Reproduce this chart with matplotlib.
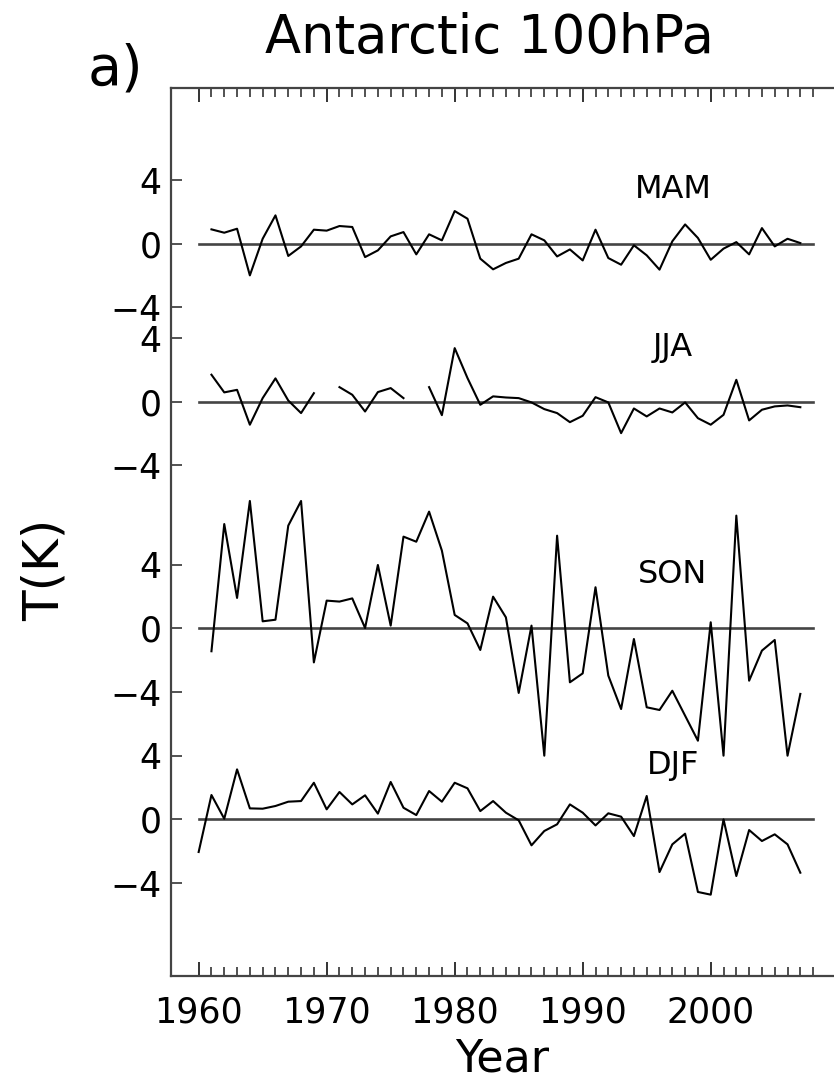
import numpy as np
import matplotlib
matplotlib.use("Agg")
import matplotlib.pyplot as plt
from matplotlib.ticker import FixedLocator

# seasonal temperature anomalies (K), Antarctic 100 hPa
years = list(range(1961, 2008))
djf_years = list(range(1960, 2008))

mam = [0.90, 0.69, 0.94, -1.99, 0.31, 1.78, -0.77, -0.17, 0.88, 0.82,
       1.11, 1.05, -0.84, -0.42, 0.46, 0.73, -0.67, 0.59, 0.21, 2.05,
       1.57, -0.94, -1.61, -1.21, -0.94, 0.59, 0.21, -0.80, -0.36, -1.05,
       0.88, -0.90, -1.32, -0.10, -0.73, -1.63, 0.15, 1.21, 0.36, -1.01,
       -0.31, 0.10, -0.67, 0.98, -0.17, 0.31, 0.04]

jja = [1.70, 0.59, 0.75, -1.44, 0.23, 1.47, 0.08, -0.71, 0.54, np.nan,
       0.92, 0.44, -0.61, 0.61, 0.86, 0.23, np.nan, 0.92, -0.84, 3.37,
       1.49, -0.19, 0.34, 0.27, 0.23, -0.04, -0.46, -0.71, -1.28, -0.88,
       0.29, -0.04, -1.97, -0.42, -0.92, -0.42, -0.67, -0.04, -1.03, -1.44,
       -0.82, 1.38, -1.17, -0.50, -0.29, -0.23, -0.34]

son = [-1.44, 6.55, 1.91, 8.0, 0.44, 0.54, 6.45, 8.0, -2.14, 1.74,
       1.68, 1.88, 0.02, 3.98, 0.17, 5.76, 5.44, 7.33, 4.88, 0.84,
       0.31, -1.36, 1.99, 0.69, -4.06, 0.17, -8.0, 5.82, -3.39, -2.83,
       2.58, -2.97, -5.07, -0.67, -4.96, -5.13, -3.92, -5.49, -7.06, 0.38,
       -8.0, 7.08, -3.29, -1.40, -0.73, -8.0, -4.12]

djf = [-2.05, 1.53, 0.04, 3.14, 0.69, 0.67, 0.84, 1.11, 1.15, 2.30,
       0.63, 1.72, 0.94, 1.51, 0.36, 2.35, 0.73, 0.27, 1.78, 1.11,
       2.30, 1.95, 0.52, 1.15, 0.42, -0.06, -1.63, -0.73, -0.31, 0.94,
       0.42, -0.38, 0.38, 0.17, -1.05, 1.47, -3.31, -1.57, -0.90, -4.56,
       -4.73, 0.00, -3.56, -0.67, -1.36, -0.94, -1.57, -3.35]

seasons = ["MAM", "JJA", "SON", "DJF"]
offsets = [36.16, 26.23, 12.0, 0.0]

series = [(years, mam), (years, jja), (years, son), (djf_years, djf)]

x0, x1 = 1957.84, 2009.63

fig = plt.figure(figsize=(8.34, 10.85), dpi=100)
ax = fig.add_axes([171 / 834, 109.3 / 1085, 663 / 834, 887.7 / 1085])

for name, off, (yrs, vals) in zip(seasons, offsets, series):
    # zero line of each season, 1960-2008
    ax.axhline(off, xmin=(1960 - x0) / (x1 - x0), xmax=(2008 - x0) / (x1 - x0),
               color="#444444", lw=1.9, zorder=1)
    ax.plot(yrs, np.array(vals) + off, color="black", lw=1.5, zorder=2)
    ax.text(1997.05, off + 3.4, name, ha="center", va="center",
            fontsize=23, fontweight="medium")

ax.set_xlim(x0, x1)
ax.set_ylim(-9.82, 45.94)

ax.xaxis.set_major_locator(FixedLocator([1960, 1970, 1980, 1990, 2000]))
ax.xaxis.set_minor_locator(FixedLocator(list(range(1960, 2009))))
ax.tick_params(axis="x", which="major", direction="in", length=10, width=1.4,
               top=True, bottom=True, labelsize=25, pad=14, color="#333333")
ax.tick_params(axis="x", which="minor", direction="in", length=6.5, width=1.2,
               top=True, bottom=True, color="#333333")

yt = []
yl = []
for off in offsets:
    yt += [off - 4, off, off + 4]
    yl += ["\u22124", "0", "4"]
ax.set_yticks(yt)
ax.set_yticklabels(yl)
ax.tick_params(axis="y", direction="in", length=8, width=1.3, labelsize=25,
               pad=7, color="#444444")

ax.spines["right"].set_visible(False)
for s in ["left", "top", "bottom"]:
    ax.spines[s].set_color("#444444")
    ax.spines[s].set_linewidth(1.6)

ax.set_xlabel("Year", fontsize=32, labelpad=6)
fig.text(45 / 834, 1 - 570 / 1085, "T(K)", rotation=90, fontsize=36,
         ha="center", va="center")
fig.text(489 / 834, 1 - 53 / 1085, "Antarctic 100hPa", fontsize=38,
         ha="center", va="baseline")
fig.text(88 / 834, 1 - 85 / 1085, "a)", fontsize=40, ha="left", va="baseline")

fig.savefig("out.png", dpi=100)
